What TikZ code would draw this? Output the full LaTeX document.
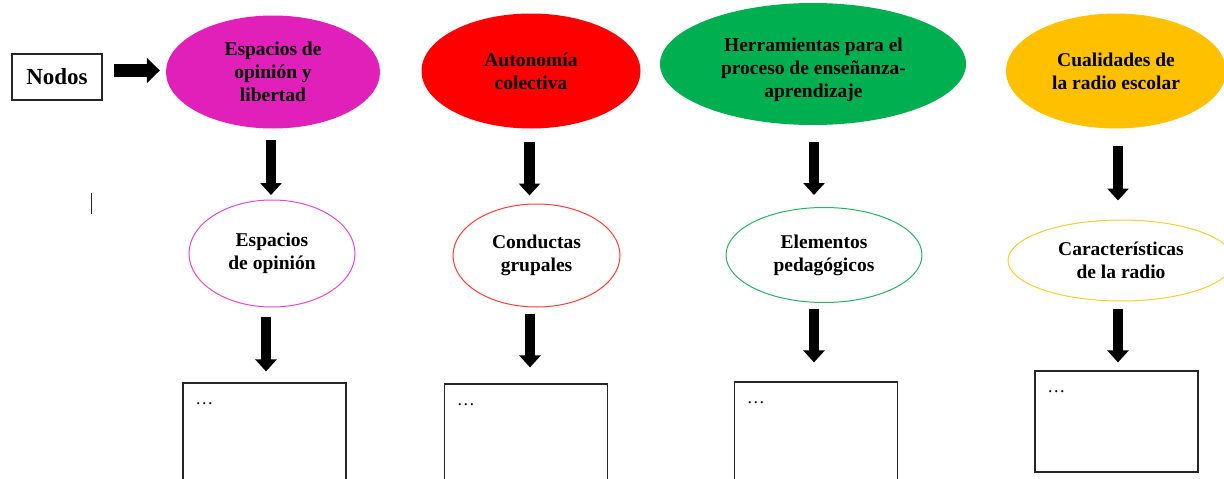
\documentclass[tikz,border=0pt]{standalone}
\usepackage{fontspec}
\setmainfont{Liberation Serif}
\usetikzlibrary{shapes.geometric,arrows.meta,calc}
\definecolor{cmag}{RGB}{224,32,184}
\definecolor{cred}{RGB}{255,0,0}
\definecolor{cgreen}{RGB}{0,176,80}
\definecolor{cyel}{RGB}{255,192,0}
\definecolor{lmag}{RGB}{232,72,204}
\definecolor{lred}{RGB}{255,60,60}
\definecolor{lgreen}{RGB}{40,180,100}
\definecolor{lyel}{RGB}{255,204,50}
\tikzset{
  etext/.style={font=\bfseries\fontsize{19.5}{23}\selectfont, align=center, text=black},
  topell/.style={ellipse, draw=none, fill=#1, inner sep=0pt, etext},
  subell/.style={ellipse, draw=#1, line width=1pt, fill=white, inner sep=0pt, etext},
  outbox/.style={rectangle, draw=black!85, line width=1.2pt, minimum width=163pt, minimum height=101pt, inner sep=0pt},
  dotstext/.style={font=\fontsize{18}{20}\selectfont, inner sep=0pt, anchor=base west},
  barrow/.style={line width=10.5pt, -{Triangle[length=12pt,width=21pt]}},
  harrow/.style={line width=13pt, -{Triangle[length=13pt,width=25pt]}}
}
\begin{document}
\begin{tikzpicture}[x=1pt,y=-1pt]
\clip (0,0) rectangle (1224,479);
% left label
\node[rectangle, draw=black!85, line width=1.2pt, minimum width=90pt, minimum height=46pt, inner sep=0pt,
      font=\bfseries\fontsize{23}{27}\selectfont] (nodos) at (57,77) {Nodos};
% top ellipses
\node[topell=cmag, minimum width=214pt, minimum height=113pt] (e1) at (273,72) {Espacios de\\opinión y\\libertad};
\node[topell=cred, minimum width=219pt, minimum height=115pt] (e2) at (531,71) {Autonomía\\colectiva};
\node[topell=cgreen, minimum width=306pt, minimum height=122pt] (e3) at (813,64) {};
\node[etext] (t3) at (813.5,69.5) {Herramientas para el\\proceso de enseñanza-\\aprendizaje};
\node[topell=cyel, minimum width=220pt, minimum height=115pt] (e4) at (1116,71) {Cualidades de\\la radio escolar};
% second row
\node[subell=lmag, minimum width=166pt, minimum height=107pt] (f1) at (272,253.5) {Espacios\\de opinión};
\node[subell=lred, minimum width=167pt, minimum height=103pt] (f2) at (536.5,255.5) {Conductas\\grupales};
\node[subell=lgreen, minimum width=196pt, minimum height=95pt] (f3) at (824,255) {Elementos\\pedagógicos};
\node[subell=lyel, minimum width=226pt, minimum height=81pt] (f4) at (1121,260.5) {Características\\de la radio};
% boxes
\node[outbox] (b1) at (264.5,433.5) {};
\node[outbox] (b2) at (526,434.5) {};
\node[outbox] (b3) at (816,432.5) {};
\node[outbox] (b4) at (1116.5,421.5) {};
\node[dotstext] (d1) at ($(b1.north west)+(12.7,22.5)$) {…};
\node[dotstext] (d2) at ($(b2.north west)+(12.7,22.5)$) {…};
\node[dotstext] (d3) at ($(b3.north west)+(12.7,22.5)$) {…};
\node[dotstext] (d4) at ($(b4.north west)+(12.7,22.5)$) {…};
% horizontal arrow
\draw[harrow] ($(nodos.east |- e1.west)+(11,-1.5)$) -- ($(e1.west)+(-6,-1.5)$);
% row 1 arrows
\draw[barrow] ($(e1.south)+(-2,11.5)$) -- ($(e1.south |- f1.north)+(-2,-4.5)$);
\draw[barrow] ($(e2.south)+(-1.5,13.5)$) -- ($(e2.south |- f2.north)+(-1.5,-8)$);
\draw[barrow] ($(e3.south)+(1,17)$) -- ($(e3.south |- f3.north)+(1,-12)$);
\draw[barrow] ($(e4.south)+(2,17.5)$) -- ($(e4.south |- f4.north)+(2,-19)$);
% row 2 arrows
\draw[barrow] ($(f1.south)+(-6,9.5)$) -- ($(f1.south |- b1.north)+(-6,-11)$);
\draw[barrow] ($(f2.south)+(-6.5,6)$) -- ($(f2.south |- b2.north)+(-6.5,-16)$);
\draw[barrow] ($(f3.south)+(-10,5.5)$) -- ($(f3.south |- b3.north)+(-10,-19)$);
\draw[barrow] ($(f4.south)+(-3,7.5)$) -- ($(f4.south |- b4.north)+(-3,-8)$);
% text cursor mark
\draw[line width=1.2pt, black!85] (91.5,193) -- (91.5,214);
\end{tikzpicture}
\end{document}
